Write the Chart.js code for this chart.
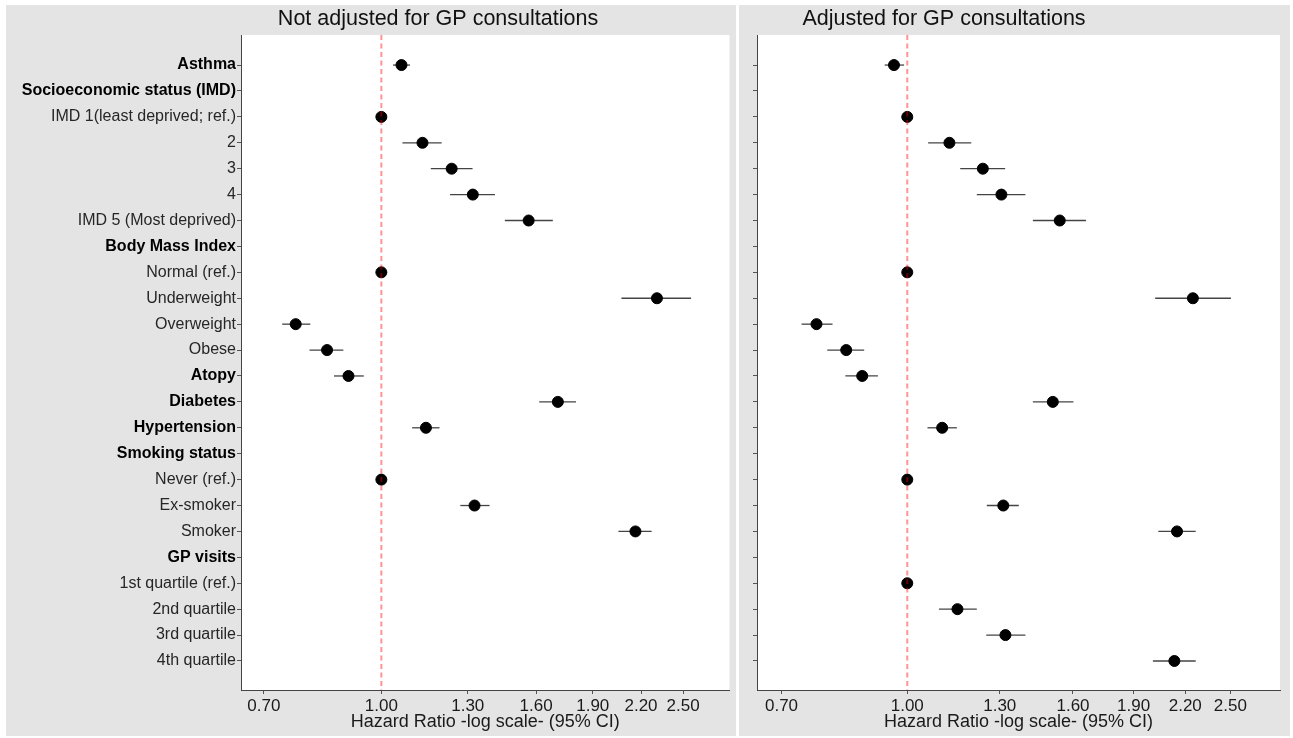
<!DOCTYPE html>
<html>
<head>
<meta charset="utf-8">
<script src="https://cdn.jsdelivr.net/npm/chart.js@4.4.1/dist/chart.umd.min.js"></script>
<style>
  html, body { margin: 0; padding: 0; background: #ffffff; }
  body { width: 1293px; height: 738px; position: relative; overflow: hidden; }
  .panel { position: absolute; top: 5px; height: 731px; background: #e4e4e4; }
  #leftBox { left: 6px; width: 730px; }
  #rightBox { left: 739px; width: 551px; }
  canvas { display: block; }
</style>
</head>
<body>
<div class="panel" id="leftBox"><canvas id="unadjChart" width="730" height="731"></canvas></div>
<div class="panel" id="rightBox"><canvas id="adjChart" width="551" height="731"></canvas></div>
<script>
// Строки графика (сверху вниз)
const categories = [
  'Asthma', 'Socioeconomic status (IMD)', 'IMD 1(least deprived; ref.)', '2', '3', '4',
  'IMD 5 (Most deprived)', 'Body Mass Index', 'Normal (ref.)', 'Underweight', 'Overweight',
  'Obese', 'Atopy', 'Diabetes', 'Hypertension', 'Smoking status', 'Never (ref.)',
  'Ex-smoker', 'Smoker', 'GP visits', '1st quartile (ref.)', '2nd quartile',
  '3rd quartile', '4th quartile'
];
const headerRows = ['Asthma', 'Socioeconomic status (IMD)', 'Body Mass Index', 'Atopy',
  'Diabetes', 'Hypertension', 'Smoking status', 'GP visits'];

const xTickValues = [0.70, 1.00, 1.30, 1.60, 1.90, 2.20, 2.50];
const refValue = 1;

// Без поправки на консультации GP
const hrUnadj = [1.063, null, 1.00, 1.133, 1.238, 1.320, 1.564, null, 1.00, 2.309, 0.771,
  0.848, 0.905, 1.709, 1.145, null, 1.00, 1.327, 2.163, null, null, null, null, null];
const loUnadj = [1.036, null, 1.00, 1.066, 1.162, 1.232, 1.455, null, 1.00, 2.073, 0.740,
  0.804, 0.866, 1.615, 1.098, null, 1.00, 1.271, 2.054, null, null, null, null, null];
const hiUnadj = [1.091, null, 1.00, 1.201, 1.319, 1.412, 1.683, null, 1.00, 2.561, 0.806,
  0.891, 0.948, 1.806, 1.193, null, 1.00, 1.389, 2.272, null, null, null, null, null];

// С поправкой на консультации GP
const hrAdj = [0.963, null, 1.00, 1.127, 1.239, 1.306, 1.541, null, 1.00, 2.248, 0.773,
  0.841, 0.880, 1.511, 1.104, null, 1.00, 1.313, 2.149, null, 1.00, 1.153, 1.321, 2.133];
const loAdj = [0.938, null, 1.00, 1.061, 1.162, 1.218, 1.428, null, 1.00, 2.020, 0.741,
  0.797, 0.839, 1.428, 1.059, null, 1.00, 1.253, 2.038, null, 1.00, 1.094, 1.251, 2.007];
const hiAdj = [0.991, null, 1.00, 1.199, 1.320, 1.398, 1.660, null, 1.00, 2.504, 0.809,
  0.885, 0.920, 1.602, 1.151, null, 1.00, 1.372, 2.266, null, 1.00, 1.218, 1.398, 2.266];

const FONT = "'Liberation Sans', Arial, sans-serif";

const isHeader = (ctx) => !!(ctx && ctx.tick && headerRows.includes(categories[ctx.tick.value]));

// Белый фон области графика
const panelBg = {
  id: 'panelBg',
  beforeDraw(chart) {
    const a = chart.chartArea;
    const ctx = chart.ctx;
    ctx.save();
    ctx.fillStyle = '#ffffff';
    ctx.fillRect(a.left, a.top, a.right - a.left, a.bottom - a.top);
    ctx.restore();
  }
};

// Доверительные интервалы
function errorBars(lo, hi) {
  return {
    id: 'errorBars',
    beforeDatasetsDraw(chart) {
      const xs = chart.scales.x, ys = chart.scales.y, ctx = chart.ctx;
      ctx.save();
      ctx.strokeStyle = '#444';
      ctx.lineWidth = 1.3;
      lo.forEach((l, i) => {
        if (l == null) return;
        const y = ys.getPixelForValue(i);
        ctx.beginPath();
        ctx.moveTo(xs.getPixelForValue(l), y);
        ctx.lineTo(xs.getPixelForValue(hi[i]), y);
        ctx.stroke();
      });
      ctx.restore();
    }
  };
}

// Пунктирная линия HR = 1
const refLine = {
  id: 'refLine',
  afterDatasetsDraw(chart) {
    const a = chart.chartArea, ctx = chart.ctx;
    const x = chart.scales.x.getPixelForValue(refValue);
    ctx.save();
    ctx.strokeStyle = 'rgba(255, 0, 0, 0.42)';
    ctx.lineWidth = 2;
    ctx.setLineDash([5, 3.5]);
    ctx.beginPath();
    ctx.moveTo(x, a.top);
    ctx.lineTo(x, a.bottom);
    ctx.stroke();
    ctx.restore();
  }
};

// Заголовок панели
function panelTitle(text, cx) {
  return {
    id: 'panelTitle',
    afterDraw(chart) {
      const ctx = chart.ctx;
      ctx.save();
      ctx.fillStyle = '#111';
      ctx.font = '21.5px ' + FONT;
      ctx.textAlign = 'center';
      ctx.textBaseline = 'middle';
      ctx.fillText(text, cx, 14);
      ctx.restore();
    }
  };
}

function makeChart(id, hr, lo, hi, opts) {
  const points = hr.map((v, i) => (v == null ? null : { x: v, y: i })).filter(Boolean);
  return new Chart(document.getElementById(id), {
    type: 'scatter',
    data: {
      datasets: [{
        data: points,
        backgroundColor: '#000',
        borderColor: '#000',
        pointRadius: 5.5,
        pointHoverRadius: 5.5
      }]
    },
    options: {
      responsive: false,
      animation: false,
      events: [],
      layout: { padding: { top: 30, right: opts.padRight, left: 0, bottom: 0 } },
      plugins: { legend: { display: false }, tooltip: { enabled: false } },
      scales: {
        x: {
          type: 'logarithmic',
          min: 0.653,
          max: 2.878,
          afterBuildTicks: (axis) => { axis.ticks = xTickValues.map(v => ({ value: v })); },
          afterFit: (scale) => { scale.height = 46; },
          ticks: {
            autoSkip: false,
            maxRotation: 0,
            padding: 2,
            color: '#1a1a1a',
            font: { family: FONT, size: 17 },
            callback: (v) => Number(v).toFixed(2)
          },
          grid: { drawOnChartArea: false, drawTicks: true, tickLength: 4, color: '#555' },
          border: { display: true, color: '#444', width: 1 },
          title: {
            display: true,
            text: 'Hazard Ratio -log scale- (95% CI)',
            color: '#1a1a1a',
            font: { family: FONT, size: 18 },
            padding: { top: 0, bottom: 3 }
          }
        },
        y: {
          type: 'linear',
          reverse: true,
          min: -1.16,
          max: 24.12,
          afterBuildTicks: (axis) => { axis.ticks = categories.map((c, i) => ({ value: i })); },
          afterFit: (scale) => { scale.width = opts.yWidth; },
          ticks: {
            autoSkip: false,
            padding: 1,
            color: (ctx) => isHeader(ctx) ? '#000' : '#262626',
            font: (ctx) => ({ family: FONT, size: 16, weight: isHeader(ctx) ? 'bold' : 'normal' }),
            callback: (v) => opts.showLabels ? categories[v] : ''
          },
          grid: { drawOnChartArea: false, drawTicks: true, tickLength: 4, color: '#555' },
          border: { display: true, color: '#444', width: 1 }
        }
      }
    },
    plugins: [panelBg, errorBars(lo, hi), refLine, panelTitle(opts.title, opts.titleX)]
  });
}

document.addEventListener('DOMContentLoaded', () => {
  makeChart('unadjChart', hrUnadj, loUnadj, hiUnadj, {
    title: 'Not adjusted for GP consultations', titleX: 432,
    yWidth: 235, padRight: 4, showLabels: true
  });
  makeChart('adjChart', hrAdj, loAdj, hiAdj, {
    title: 'Adjusted for GP consultations', titleX: 205,
    yWidth: 18, padRight: 10, showLabels: false
  });
});
</script>
</body>
</html>
